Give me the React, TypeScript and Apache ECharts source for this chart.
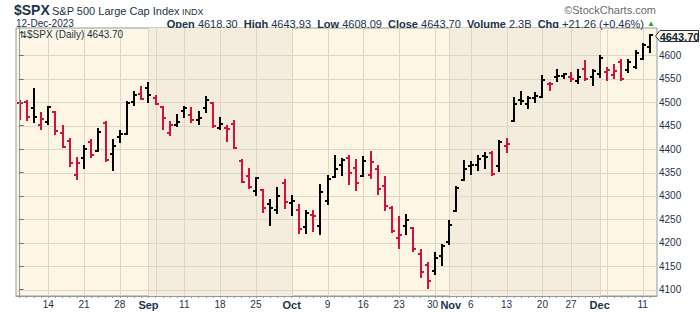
import React, { useEffect, useRef } from "react";
import * as echarts from "echarts";

// ---- data (trading days, Aug 8 – Dec 12, 2023) ----
const dates = [
  "Aug 8", "Aug 9", "Aug 10", "Aug 11", "Aug 14", "Aug 15", "Aug 16", "Aug 17", "Aug 18",
  "Aug 21", "Aug 22", "Aug 23", "Aug 24", "Aug 25", "Aug 28", "Aug 29", "Aug 30", "Aug 31",
  "Sep 1", "Sep 5", "Sep 6", "Sep 7", "Sep 8", "Sep 11", "Sep 12", "Sep 13", "Sep 14", "Sep 15",
  "Sep 18", "Sep 19", "Sep 20", "Sep 21", "Sep 22", "Sep 25", "Sep 26", "Sep 27", "Sep 28", "Sep 29",
  "Oct 2", "Oct 3", "Oct 4", "Oct 5", "Oct 6", "Oct 9", "Oct 10", "Oct 11", "Oct 12", "Oct 13",
  "Oct 16", "Oct 17", "Oct 18", "Oct 19", "Oct 20", "Oct 23", "Oct 24", "Oct 25", "Oct 26", "Oct 27",
  "Oct 30", "Oct 31", "Nov 1", "Nov 2", "Nov 3", "Nov 6", "Nov 7", "Nov 8", "Nov 9", "Nov 10",
  "Nov 13", "Nov 14", "Nov 15", "Nov 16", "Nov 17", "Nov 20", "Nov 21", "Nov 22", "Nov 24",
  "Nov 27", "Nov 28", "Nov 29", "Nov 30", "Dec 1", "Dec 4", "Dec 5", "Dec 6", "Dec 7", "Dec 8",
  "Dec 11", "Dec 12",
];
const opens = [
  4498.03, 4501.57, 4487.16, 4450.69, 4458.13, 4478.87, 4433.79, 4416.32, 4344.88,
  4380.28, 4415.33, 4396.44, 4455.16, 4389.38, 4426.03, 4432.75, 4500.34, 4517.01,
  4530.6, 4510.06, 4490.35, 4434.55, 4451.3, 4480.98, 4473.27, 4462.65, 4487.78, 4497.98,
  4445.13, 4445.41, 4452.81, 4374.36, 4341.74, 4310.62, 4312.88, 4282.63, 4269.65, 4328.18,
  4284.52, 4269.75, 4233.83, 4259.31, 4234.79, 4289.02, 4339.75, 4366.59, 4380.94, 4360.49,
  4342.37, 4345.23, 4357.35, 4321.36, 4273.85, 4210.4, 4235.79, 4232.42, 4175.99, 4152.93,
  4139.39, 4171.33, 4201.27, 4268.26, 4334.23, 4364.27, 4366.21, 4384.37, 4391.41, 4364.15,
  4406.66, 4458.97, 4505.3, 4497.08, 4509.55, 4511.7, 4538.77, 4553.04, 4555.84,
  4554.86, 4545.55, 4571.84, 4554.87, 4559.43, 4564.37, 4557.25, 4586.23, 4568.84, 4576.2,
  4593.39, 4618.3,
];
const highs = [
  4503.31, 4502.44, 4527.37, 4476.23, 4490.33, 4478.87, 4449.95, 4421.17, 4381.82,
  4407.55, 4418.59, 4443.18, 4458.3, 4418.46, 4439.56, 4500.14, 4521.65, 4532.26,
  4541.25, 4514.29, 4490.35, 4457.81, 4473.53, 4490.77, 4487.11, 4479.39, 4511.99, 4497.98,
  4466.36, 4449.85, 4461.03, 4375.7, 4357.4, 4338.51, 4313.01, 4292.07, 4317.27, 4333.15,
  4300.58, 4281.15, 4268.5, 4267.13, 4324.1, 4341.73, 4385.46, 4378.64, 4385.85, 4377.1,
  4383.33, 4393.57, 4364.2, 4339.54, 4276.56, 4255.84, 4259.38, 4232.42, 4183.6, 4156.7,
  4177.47, 4195.55, 4245.64, 4319.72, 4373.62, 4372.21, 4386.26, 4391.2, 4393.4, 4418.03,
  4421.76, 4508.67, 4521.17, 4511.99, 4520.12, 4557.11, 4542.14, 4568.43, 4560.31,
  4562.06, 4568.14, 4587.64, 4569.89, 4599.39, 4572.37, 4578.56, 4590.74, 4590.92, 4609.23,
  4623.71, 4643.93,
];
const lows = [
  4464.39, 4461.33, 4457.92, 4443.98, 4453.44, 4432.19, 4403.55, 4364.83, 4335.31,
  4360.3, 4382.77, 4396.44, 4375.55, 4356.29, 4414.98, 4431.68, 4493.59, 4507.39,
  4501.35, 4496.01, 4442.38, 4430.46, 4448.38, 4467.89, 4456.83, 4453.52, 4478.69, 4447.21,
  4442.11, 4416.61, 4401.38, 4329.17, 4316.49, 4302.7, 4265.98, 4238.63, 4264.38, 4274.86,
  4260.21, 4220.48, 4220.48, 4225.91, 4219.55, 4283.79, 4339.64, 4345.34, 4325.43, 4311.97,
  4342.37, 4337.54, 4303.84, 4269.69, 4223.03, 4189.22, 4219.43, 4181.42, 4127.9, 4103.78,
  4132.94, 4153.12, 4197.74, 4268.26, 4334.23, 4347.53, 4355.41, 4359.76, 4343.94, 4353.34,
  4393.82, 4458.97, 4495.31, 4487.83, 4499.66, 4510.36, 4525.51, 4545.05, 4552.8,
  4546.19, 4540.51, 4547.15, 4537.24, 4554.71, 4546.72, 4551.68, 4546.5, 4565.22, 4574.06,
  4593.39, 4608.09,
];
const closes = [
  4499.38, 4467.71, 4468.83, 4464.05, 4489.72, 4437.86, 4404.33, 4370.36, 4369.71,
  4399.77, 4387.55, 4436.01, 4376.31, 4405.71, 4433.31, 4497.63, 4514.87, 4507.66,
  4515.77, 4496.83, 4465.48, 4451.14, 4457.49, 4487.46, 4461.9, 4467.44, 4505.1, 4450.32,
  4453.53, 4443.95, 4402.2, 4330.0, 4320.06, 4337.44, 4273.53, 4274.51, 4299.7, 4288.05,
  4288.39, 4229.45, 4263.75, 4258.19, 4308.5, 4335.66, 4358.24, 4376.95, 4349.61, 4327.78,
  4373.63, 4373.2, 4314.6, 4278.0, 4224.16, 4217.04, 4247.68, 4186.77, 4137.23, 4117.37,
  4166.82, 4193.8, 4237.86, 4317.78, 4358.34, 4365.98, 4378.38, 4382.78, 4347.35, 4415.24,
  4411.55, 4495.7, 4502.88, 4508.24, 4514.02, 4547.38, 4538.19, 4556.62, 4559.34,
  4550.43, 4554.89, 4550.58, 4567.8, 4594.63, 4569.78, 4567.18, 4549.34, 4585.59, 4604.37,
  4622.44, 4643.7,
];
const prevClose = 4518.44;

const yTickValues = [4100, 4150, 4200, 4250, 4300, 4350, 4400, 4450, 4500, 4550, 4600];
const xLabelIndex = [4, 9, 14, 18, 23, 28, 33, 38, 43, 48, 53, 58, 60, 63, 68, 73, 77, 81, 87];
const xLabelText = ["14", "21", "28", "Sep", "11", "18", "25", "Oct", "9", "16", "23", "30", "Nov", "6", "13", "20", "27", "Dec", "11"];
const gridIndex = [4, 9, 14, 18, 19, 23, 28, 33, 38, 43, 48, 53, 58, 60, 63, 68, 73, 77, 81, 82, 87];
const shadedRanges = [[18, 38], [60, 81]];

const headerSymbol = "$SPX";
const headerName = "S&P 500 Large Cap Index";
const headerExchange = "INDX";
const headerDate = "12-Dec-2023";
const quoteLabels = ["Open", "High", "Low", "Close", "Volume", "Chg"];
const quoteValues = ["4618.30", "4643.93", "4608.09", "4643.70", "2.3B", "+21.26 (+0.46%)"];
const legendText = "⇅$SPX (Daily) 4643.70";
const lastPrice = 4643.7;

const FONT = "'Liberation Sans', Arial, sans-serif";
const TEXT = "#1d3347";
const FRAME = "#8e9c9e";
const RED = "#d3123b";
const GRID = "#ded6c4";

export default function App() {
  const ref = useRef<HTMLDivElement>(null);

  useEffect(() => {
    if (!ref.current) return;
    const chart = echarts.init(ref.current, undefined, { renderer: "svg" });

    const ohlc = dates.map((_, i) => [
      i, opens[i], highs[i], lows[i], closes[i],
      closes[i] >= (i ? closes[i - 1] : prevClose) ? 1 : 0,
    ]);
    const labelMap: Record<number, string> = {};
    xLabelIndex.forEach((v, k) => (labelMap[v] = xLabelText[k]));

    const quoteRich = quoteLabels
      .map((l, k) => `{b|${l}} {n|${quoteValues[k]}}`)
      .join("  ") + " {g|▲}";

    const tagY = 36;

    chart.setOption({
      animation: false,
      grid: {
        left: 16, right: 43, top: 28, bottom: 16,
        show: true, backgroundColor: "#fdf6e5", borderColor: FRAME, borderWidth: 1,
        containLabel: false, outerBoundsMode: "none",
      },
      xAxis: {
        type: "value", min: -0.5, max: 89, z: 10,
        splitLine: { show: false },
        axisLine: { show: true, lineStyle: { color: FRAME, width: 1 } },
        axisTick: { show: true, customValues: dates.map((_, i) => i), length: 2, lineStyle: { color: FRAME } },
        axisLabel: {
          customValues: xLabelIndex,
          hideOverlap: false,
          margin: 3,
          fontSize: 10,
          fontFamily: FONT,
          color: TEXT,
          formatter: (v: number) => {
            const t = labelMap[Math.round(v)] || "";
            if (/^[A-Z]/.test(t)) return t === "Nov" ? `{mn|${t}}` : `{m|${t}}`;
            return Math.round(v) === 58 ? `{l|${t}}` : t;
          },
          rich: {
            m: { fontSize: 11, fontWeight: "bold", fontFamily: FONT, color: TEXT },
            mn: { fontSize: 11, fontWeight: "bold", fontFamily: FONT, color: TEXT, padding: [0, 0, 0, 3] },
            l: { fontSize: 10, fontFamily: FONT, color: TEXT, padding: [0, 5, 0, 0] },
          },
        },
      },
      yAxis: {
        type: "value", position: "right", min: 4086.3, max: 4658.6, z: 10,
        splitLine: { show: false },
        axisLine: { show: true, lineStyle: { color: FRAME, width: 1 } },
        axisTick: { show: true, customValues: yTickValues, length: 4, lineStyle: { color: "#5d7380" } },
        axisLabel: {
          customValues: yTickValues, margin: 2, fontSize: 10, fontFamily: FONT, color: TEXT,
          formatter: (v: number) => String(Math.round(v)),
        },
      },
      series: [
        {
          type: "custom",
          silent: true,
          z: 1,
          data: [[0, 4300]],
          encode: { x: 0, y: 1 },
          renderItem: (params: any, api: any) => {
            const cs = params.coordSys;
            const children: any[] = [];
            const px = (v: number) => api.coord([v, 4300])[0];
            shadedRanges.forEach(([a, b]) => {
              const x0 = Math.round(px(a));
              const x1 = Math.round(px(b));
              children.push({
                type: "rect",
                shape: { x: x0, y: cs.y, width: x1 - x0, height: cs.height },
                style: { fill: "#f4eddd" },
              });
            });
            gridIndex.forEach((v) => {
              const x = Math.round(px(v)) + 0.5;
              children.push({
                type: "line",
                shape: { x1: x, y1: cs.y, x2: x, y2: cs.y + cs.height },
                style: { stroke: GRID, lineWidth: 1 },
              });
            });
            yTickValues.forEach((v) => {
              const y = Math.round(api.coord([0, v])[1]) + 0.5;
              children.push({
                type: "line",
                shape: { x1: cs.x, y1: y, x2: cs.x + cs.width, y2: y },
                style: { stroke: GRID, lineWidth: 1 },
              });
            });
            return { type: "group", children };
          },
        },
        {
          type: "custom",
          name: "$SPX",
          z: 3,
          data: ohlc,
          encode: { x: 0, y: [1, 2, 3, 4] },
          renderItem: (params: any, api: any) => {
            const i = api.value(0);
            const top = api.coord([i, api.value(2)]);
            const bot = api.coord([i, api.value(3)]);
            const o = api.coord([i, api.value(1)]);
            const c = api.coord([i, api.value(4)]);
            const x = Math.round(top[0]);
            const color = api.value(5) ? "#000000" : RED;
            const yO = Math.round(o[1]);
            const yC = Math.round(c[1]);
            return {
              type: "group",
              children: [
                { type: "line", shape: { x1: x, y1: Math.round(top[1]) - 1, x2: x, y2: Math.round(bot[1]) + 1 }, style: { stroke: color, lineWidth: 2 } },
                { type: "line", shape: { x1: x - 3, y1: yO, x2: x, y2: yO }, style: { stroke: color, lineWidth: 2 } },
                { type: "line", shape: { x1: x, y1: yC, x2: x + 3, y2: yC }, style: { stroke: color, lineWidth: 2 } },
              ],
            };
          },
        },
      ],
      graphic: [
        { type: "text", x: 14, y: 10, style: { text: headerSymbol, fontSize: 14, fontWeight: "bold", fontFamily: FONT, fill: TEXT, verticalAlign: "middle" } },
        { type: "text", x: 52, y: 11, style: { text: headerName, fontSize: 11, fontFamily: FONT, fill: TEXT, verticalAlign: "middle" } },
        { type: "text", x: 182, y: 11.5, style: { text: headerExchange, fontSize: 9, fontFamily: FONT, fill: TEXT, verticalAlign: "middle" } },
        { type: "text", x: 656, y: 10, style: { text: "©StockCharts.com", fontSize: 11, fontFamily: FONT, fill: "#6a6a6a", align: "right", verticalAlign: "middle" } },
        { type: "text", x: 16, y: 23.5, style: { text: headerDate, fontSize: 10, fontFamily: FONT, fill: TEXT, verticalAlign: "middle" } },
        {
          type: "text", x: 655, y: 23.5,
          style: {
            text: quoteRich, align: "right", verticalAlign: "middle", fontSize: 11, fontFamily: FONT, fill: TEXT,
            rich: {
              b: { fontSize: 11, fontWeight: "bold", fontFamily: FONT, fill: TEXT },
              n: { fontSize: 11, fontFamily: FONT, fill: TEXT },
              g: { fontSize: 8, fontFamily: FONT, fill: "#2a9d3a" },
            },
          },
        },
        { type: "text", x: 19, y: 34.5, z: 20, style: { text: legendText, fontSize: 10, fontFamily: FONT, fill: TEXT, verticalAlign: "middle" } },
        {
          type: "polygon", z: 20,
          shape: { points: [[655.5, tagY], [660, 30.5], [698.5, 30.5], [698.5, 41.5], [660, 41.5]] },
          style: { fill: "#fdf6e5", stroke: "#1d3347", lineWidth: 1 },
        },
        { type: "text", x: 679.5, y: 36.5, z: 21, style: { text: lastPrice.toFixed(2), fontSize: 11, fontWeight: "bold", fontFamily: FONT, fill: "#13283a", align: "center", verticalAlign: "middle" } },
      ],
    });

    return () => chart.dispose();
  }, []);

  return (
    <div
      ref={ref}
      style={{ position: "fixed", left: 0, top: 0, width: 700, height: 312, background: "#ffffff" }}
    />
  );
}
